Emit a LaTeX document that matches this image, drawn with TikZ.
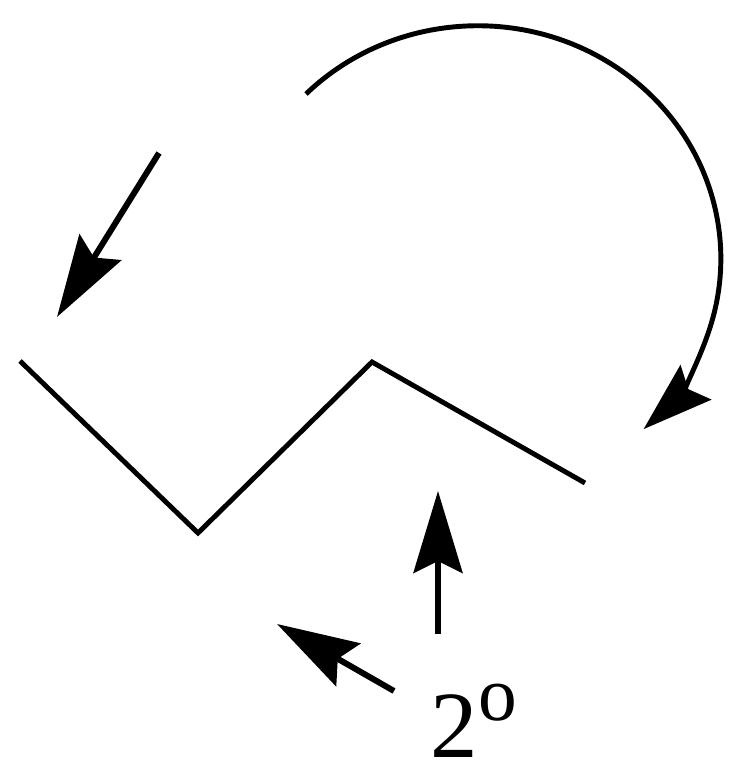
\documentclass[tikz,border=0pt]{standalone}
\usepackage{fontspec}
\setmainfont{Liberation Serif}
\usepackage{tikz}
\usetikzlibrary{arrows.meta}

\begin{document}
\begin{tikzpicture}[
  chain/.style={line width=1.4pt, line join=miter},
  arr/.style={-{Stealth[length=8.2mm, width=4.9mm, inset=1.2mm]}, line width=1.7pt},
  turn/.style={-{Stealth[length=7mm, width=4.6mm, inset=1mm]}, line width=1.4pt}
]
  \useasboundingbox (0,0) rectangle (7.49,7.77);

  % zigzag chain
  \coordinate (z1) at (0.20,4.16);
  \coordinate (z2) at (1.98,2.44);
  \coordinate (z3) at (3.72,4.15);
  \coordinate (z4) at (5.85,2.94);
  \draw[chain] (z1) -- (z2) -- (z3) -- (z4);

  % rotation arrow
  \coordinate (rotstart) at (3.06,6.83);
  \draw[turn] (rotstart) arc[start angle=135, end angle=-47, x radius=2.43, y radius=2.33];

  % straight arrows
  \coordinate (downtail) at (1.59,6.24);
  \coordinate (downtip) at (0.57,4.60);
  \draw[arr] (downtail) -- (downtip);

  \coordinate (uptail) at (4.38,1.43);
  \coordinate (uptip) at (4.38,2.86);
  \draw[arr] (uptail) -- (uptip);

  \coordinate (lefttail) at (3.94,0.86);
  \coordinate (lefttip) at (2.77,1.53);
  \draw[arr] (lefttail) -- (lefttip);

  % label
  \node[anchor=base west, inner sep=0pt, font=\fontsize{27}{30}\selectfont] (deg) at (4.30,0.20)
    {2\raisebox{0.36cm}{\fontsize{22}{24}\selectfont o}};
\end{tikzpicture}
\end{document}
